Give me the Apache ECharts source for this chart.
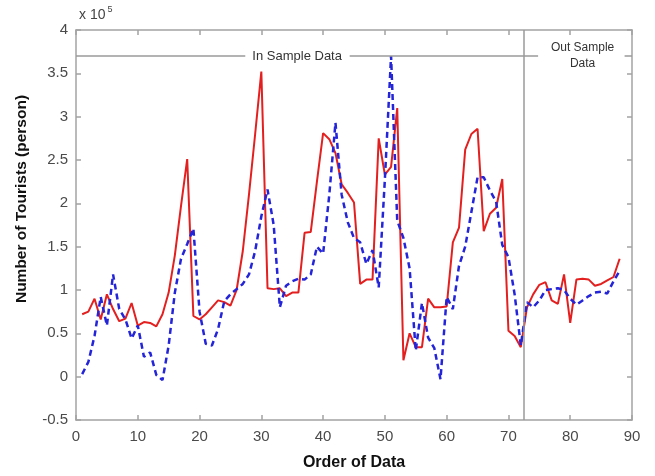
<!DOCTYPE html>
<html>
<head>
<meta charset="utf-8">
<script src="https://cdn.jsdelivr.net/npm/echarts@6/dist/echarts.min.js"></script>
<style>
html,body{margin:0;padding:0;background:#fff;}
#chart{width:655px;height:476px;}
</style>
</head>
<body>
<div id="chart"></div>
<script>
// Order of data (x), values in units of 10^5 persons
var actual = [0.72,0.75,0.90,0.66,0.95,0.78,0.64,0.67,0.85,0.59,
  0.63,0.62,0.58,0.72,0.97,1.40,1.97,2.51,0.70,0.66,
  0.72,0.80,0.88,0.86,0.82,1.00,1.45,2.10,2.80,3.52,
  1.02,1.01,1.02,0.93,0.97,0.97,1.66,1.67,2.25,2.81,
  2.74,2.58,2.22,2.12,2.01,1.07,1.12,1.12,2.75,2.33,
  2.42,3.10,0.19,0.50,0.34,0.34,0.90,0.80,0.80,0.81,
  1.55,1.72,2.62,2.80,2.86,1.68,1.88,1.95,2.28,0.53,
  0.47,0.34,
  0.80,0.95,1.06,1.09,0.88,0.84,1.18,0.62,1.12,1.13,
  1.12,1.05,1.07,1.11,1.15,1.36];
var predicted = [0.03,0.17,0.47,0.92,0.59,1.18,0.78,0.66,0.44,0.59,
  0.23,0.28,0.02,-0.04,0.36,0.97,1.36,1.53,1.71,0.75,
  0.38,0.36,0.55,0.87,0.95,1.01,1.07,1.18,1.45,1.85,
  2.16,1.75,0.80,1.05,1.10,1.13,1.12,1.18,1.50,1.42,
  2.10,2.93,2.10,1.78,1.60,1.55,1.30,1.46,1.03,2.28,
  3.70,1.80,1.60,1.25,0.30,0.85,0.45,0.33,-0.03,0.92,
  0.78,1.28,1.50,1.90,2.30,2.30,2.15,2.02,1.52,1.38,
  0.95,0.36,
  0.86,0.80,0.88,1.00,1.01,1.02,1.00,0.90,0.83,0.88,
  0.93,0.97,0.98,0.96,1.10,1.22];
var xTicks = {min: 0, max: 90, interval: 10};
var yTicks = {min: -0.5, max: 4, interval: 0.5};
var splitAt = 72.5;
var bandY = 3.7;
// annotation bracket segments (data units) and label anchors
var inSegs = [[0, 27.4], [44.3, 72.5]];
var outSegs = [[72.5, 74.8], [88.8, 90]];
var inLabel = {text: 'In Sample Data', x: 35.8};
var outLabel = {text: 'Out Sample\nData', x: 82};

function pairs(arr){ return arr.map(function(v,i){ return [i+1, v]; }); }

var chart = echarts.init(document.getElementById('chart'), null, {renderer:'canvas'});
var axisGrey = '#a3a3a3';
var labelColor = '#4a4a4a';
var font = 'Liberation Sans, Arial, sans-serif';

var segLines = inSegs.concat(outSegs).map(function(s){
  return [{coord: [s[0], bandY]}, {coord: [s[1], bandY]}];
});
segLines.unshift([{coord: [splitAt, yTicks.min]}, {coord: [splitAt, yTicks.max]}]);

chart.setOption({
  animation: false,
  backgroundColor: '#fff',
  grid: {left: 76, right: 23, top: 30, bottom: 54},
  graphic: [{
    type: 'text', left: 79, top: 5,
    style: {
      text: '{a|x 10}{b|5}',
      rich: {
        a: {fontSize: 14, fontFamily: font, fill: '#444', verticalAlign: 'bottom'},
        b: {fontSize: 9, fontFamily: font, fill: '#444', verticalAlign: 'top', padding:[0,0,8,2]}
      }
    }
  }],
  xAxis: [{
    type: 'value', min: xTicks.min, max: xTicks.max, interval: xTicks.interval,
    position: 'bottom',
    name: 'Order of Data', nameLocation: 'middle', nameGap: 35,
    nameTextStyle: {fontFamily: font, fontWeight: 'bold', fontSize: 16, color: '#111'},
    axisLine: {show: true, onZero: false, lineStyle: {color: axisGrey, width: 1.5}},
    axisTick: {show: true, inside: true, length: 5, lineStyle: {color: axisGrey, width: 1.5}},
    axisLabel: {color: labelColor, fontSize: 15, fontFamily: font, margin: 9},
    splitLine: {show: false}
  },{
    type: 'value', min: xTicks.min, max: xTicks.max, interval: xTicks.interval,
    position: 'top',
    axisLine: {show: true, onZero: false, lineStyle: {color: axisGrey, width: 1.5}},
    axisTick: {show: true, inside: true, length: 5, lineStyle: {color: axisGrey, width: 1.5}},
    axisLabel: {show: false},
    splitLine: {show: false}
  }],
  yAxis: [{
    type: 'value', min: yTicks.min, max: yTicks.max, interval: yTicks.interval,
    position: 'left',
    name: 'Number of Tourists (person)', nameLocation: 'middle', nameGap: 46,
    nameTextStyle: {fontFamily: font, fontWeight: 'bold', fontSize: 15.5, color: '#111', padding: [0,0,0,52]},
    axisLine: {show: true, onZero: false, lineStyle: {color: axisGrey, width: 1.5}},
    axisTick: {show: true, inside: true, length: 5, lineStyle: {color: axisGrey, width: 1.5}},
    axisLabel: {color: labelColor, fontSize: 15, fontFamily: font, margin: 8},
    splitLine: {show: false}
  },{
    type: 'value', min: yTicks.min, max: yTicks.max, interval: yTicks.interval,
    position: 'right',
    axisLine: {show: true, onZero: false, lineStyle: {color: axisGrey, width: 1.5}},
    axisTick: {show: true, inside: true, length: 5, lineStyle: {color: axisGrey, width: 1.5}},
    axisLabel: {show: false},
    splitLine: {show: false}
  }],
  series: [{
    name: 'Actual', type: 'line', xAxisIndex: 0, yAxisIndex: 0,
    data: pairs(actual), showSymbol: false, symbol: 'none',
    lineStyle: {color: '#e3201f', width: 2},
    z: 2,
    markLine: {
      silent: true, symbol: 'none', animation: false,
      lineStyle: {color: '#9a9a9a', width: 1.5, type: 'solid'},
      label: {show: false},
      data: segLines
    },
    markPoint: {
      silent: true, symbol: 'circle', symbolSize: 1,
      itemStyle: {color: 'rgba(0,0,0,0)'},
      label: {show: true, position: 'inside', color: '#333', fontFamily: font},
      data: [
        {coord: [inLabel.x, bandY], value: inLabel.text, label: {formatter: inLabel.text, fontSize: 13}},
        {coord: [outLabel.x, bandY], value: outLabel.text, label: {formatter: outLabel.text, fontSize: 12, lineHeight: 16, align: 'center'}}
      ]
    }
  },{
    name: 'Predicted', type: 'line', xAxisIndex: 0, yAxisIndex: 0,
    data: pairs(predicted), showSymbol: false, symbol: 'none',
    lineStyle: {color: '#2424d8', width: 2.5, type: [6,4]},
    z: 3
  }]
});
</script>
</body>
</html>
